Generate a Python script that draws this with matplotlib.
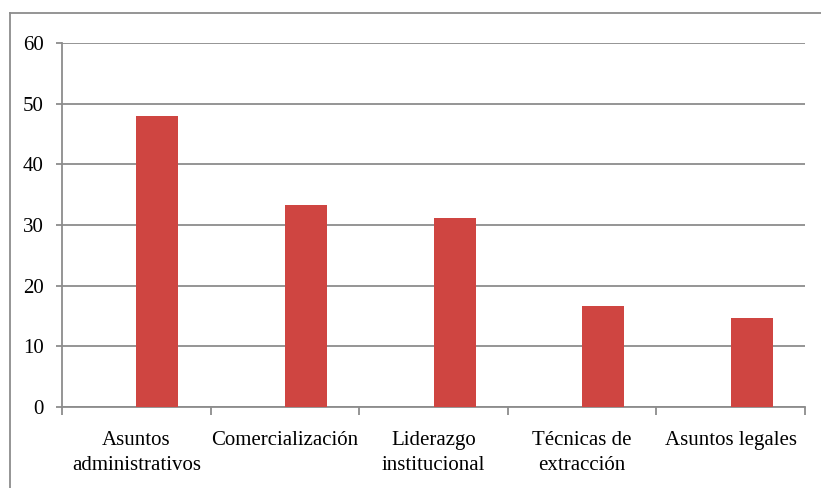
import numpy as np
import matplotlib
matplotlib.use("Agg")
from matplotlib import pyplot as plt
from matplotlib.lines import Line2D

# data
categories = ["Asuntos\nadministrativos", "Comercialización", "Liderazgo\ninstitucional",
              "Técnicas de\nextracción", "Asuntos legales"]
values = [47.9, 33.3, 31.2, 16.7, 14.6]
yticks = [0, 10, 20, 30, 40, 50, 60]

bar_color = "#CF4541"
grid_color = "#8C8C8C"

plt.rcParams['font.family'] = ['Liberation Serif', 'DejaVu Serif']

W, H = 821, 488
fig = plt.figure(figsize=(W/100, H/100), dpi=100)
ax = fig.add_axes([62/W, 1 - 407/H, (805 - 62)/W, (407 - 43)/H])

x = np.arange(len(categories))
# bars sit on the right half of each category slot
ax.bar(x, values, width=0.283, align='edge', color=bar_color, zorder=3)

ax.set_xlim(-0.5, len(categories) - 0.5)
ax.set_ylim(0, 60)
ax.set_yticks(yticks)
ax.set_yticklabels([str(t) for t in yticks], fontsize=15)
ax.yaxis.grid(True, color=grid_color, linewidth=1.3, zorder=0)

# category boundary ticks, labels at centres
ax.set_xticks(np.arange(len(categories) + 1) - 0.5)
ax.set_xticklabels([])
ax.set_xticks(x, minor=True)
ax.set_xticklabels(categories, minor=True, fontsize=15, linespacing=1.45)
ax.tick_params(axis='x', which='major', length=6, color=grid_color, width=1.3)
ax.tick_params(axis='x', which='minor', length=0, pad=17)
ax.tick_params(axis='y', length=4, color=grid_color, width=1.3, pad=9)

for s in ['top', 'right']:
    ax.spines[s].set_visible(False)
for s in ['left', 'bottom']:
    ax.spines[s].set_color(grid_color)
    ax.spines[s].set_linewidth(1.3)

# outer chart frame (top and left edges visible)
fig.add_artist(Line2D([10/W, 1], [1 - 13/H, 1 - 13/H], transform=fig.transFigure,
                      color=grid_color, linewidth=1.3))
fig.add_artist(Line2D([10/W, 10/W], [0, 1 - 13/H], transform=fig.transFigure,
                      color=grid_color, linewidth=1.3))

fig.savefig("out.png", dpi=100, facecolor="white")
